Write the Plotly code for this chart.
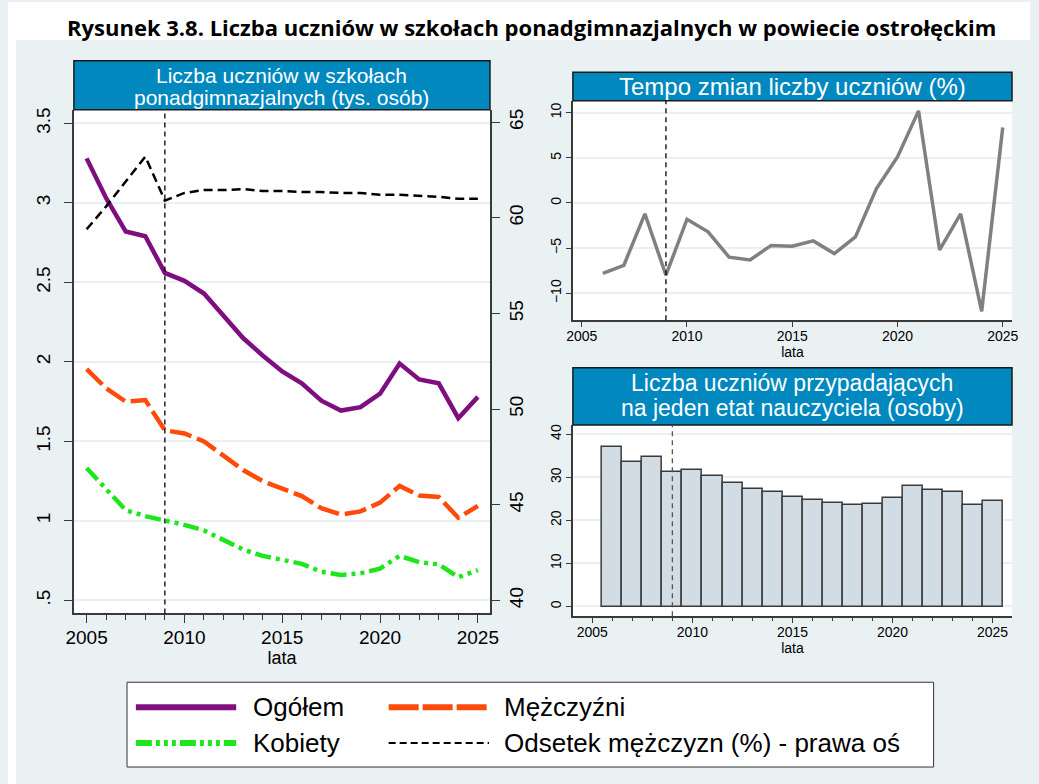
import plotly.graph_objects as go

# ---------------- data ----------------
years = list(range(2005, 2026))
ogolem = [3.28, 3.03, 2.82, 2.79, 2.56, 2.51, 2.43, 2.29, 2.15, 2.04, 1.94, 1.865,
          1.756, 1.694, 1.715, 1.80, 1.99, 1.89, 1.865, 1.646, 1.78]
mezczyzni = [1.955, 1.834, 1.75, 1.76, 1.57, 1.55, 1.50, 1.41, 1.32, 1.25, 1.20, 1.156,
             1.08, 1.04, 1.06, 1.115, 1.22, 1.16, 1.15, 1.02, 1.094]
kobiety = [1.333, 1.20, 1.067, 1.03, 1.004, 0.975, 0.94, 0.88, 0.82, 0.78, 0.754, 0.73,
           0.68, 0.66, 0.67, 0.70, 0.78, 0.74, 0.727, 0.646, 0.69]
odsetek = [59.4, 60.6, 61.9, 63.2, 60.9, 61.3, 61.45, 61.45, 61.5, 61.4, 61.4, 61.35,
           61.35, 61.3, 61.3, 61.2, 61.2, 61.15, 61.1, 61.0, 61.0]

years2 = list(range(2006, 2026))
tempo = [-7.8, -6.9, -1.2, -8.0, -1.8, -3.2, -6.0, -6.3, -4.7, -4.8, -4.2, -5.6,
         -3.75, 1.6, 5.1, 10.2, -5.2, -1.2, -12.0, 8.35]
na_etat = [37.1, 33.6, 34.7, 31.25, 31.7, 30.4, 28.6, 27.4, 26.5, 25.5, 24.8, 24.15,
           23.5, 23.8, 25.3, 27.9, 27.0, 26.7, 23.5, 24.6]

ref_year = 2009

title_text = "Rysunek 3.8. Liczba uczniów w szkołach ponadgimnazjalnych w powiecie ostrołęckim"
head_left = ["Liczba uczniów w szkołach", "ponadgimnazjalnych (tys. osób)"]
head_tr = "Tempo zmian liczby uczniów (%)"
head_br = ["Liczba uczniów przypadających", "na jeden etat nauczyciela (osoby)"]
legend_names = ["Ogółem", "Mężczyźni", "Kobiety", "Odsetek mężczyzn (%) - prawa oś"]

# ---------------- styles ----------------
W, H = 1039, 784
def X(px): return px / W
def Y(py): return 1 - py / H

FONT = "Liberation Sans, Arial, sans-serif"
BG = "#EAF1F3"
HEAD = "#0088BF"
AX = "#3a3a3a"
GRID = "#E8F0F3"
PURPLE = "#7F0F80"
ORANGE = "#FF4A0A"
GREEN = "#1EE61E"
GRAY = "#808080"

fig = go.Figure()

# left panel
fig.add_trace(go.Scatter(x=years, y=ogolem, mode="lines", xaxis="x", yaxis="y",
                         line=dict(color=PURPLE, width=4.5)))
fig.add_trace(go.Scatter(x=years, y=mezczyzni, mode="lines", xaxis="x", yaxis="y",
                         line=dict(color=ORANGE, width=4.5, dash="22px,6px")))
fig.add_trace(go.Scatter(x=years, y=kobiety, mode="lines", xaxis="x", yaxis="y",
                         line=dict(color=GREEN, width=4.5, dash="16px,5px,4px,5px,4px,5px")))
fig.add_trace(go.Scatter(x=years, y=odsetek, mode="lines", xaxis="x", yaxis="y2",
                         line=dict(color="black", width=2.5, dash="9px,5px")))
# top right
fig.add_trace(go.Scatter(x=years2, y=tempo, mode="lines", xaxis="x3", yaxis="y3",
                         line=dict(color=GRAY, width=3.5)))
# bottom right
fig.add_trace(go.Bar(x=years2, y=na_etat, xaxis="x4", yaxis="y4", width=1,
                     marker=dict(color="#D2DCE5", line=dict(color="#3a3a3a", width=1.5))))

tick_font_l = dict(family=FONT, size=19, color="black")
tick_font_s = dict(family=FONT, size=14, color="black")

common_x = dict(showline=True, linecolor=AX, linewidth=2, ticks="outside", tickcolor=AX,
                showgrid=False, zeroline=False, tickmode="linear", tick0=2005, dtick=5)
common_y = dict(showline=True, linecolor=AX, linewidth=2, ticks="outside", tickcolor=AX,
                showgrid=True, gridcolor=GRID, gridwidth=1.5, zeroline=False, tickangle=-90)

layout = dict(
    width=W, height=H, margin=dict(l=0, r=0, t=0, b=0),
    paper_bgcolor=BG, plot_bgcolor="white", showlegend=False, bargap=0,
    xaxis=dict(common_x, domain=[X(67), X(490)], range=[2004.35, 2025.62], anchor="y",
               ticklen=8, tickfont=tick_font_l, ticklabelstandoff=-2,
               minor=dict(dtick=1, ticks="outside", ticklen=5, tickcolor=AX),
               title=dict(text="lata", font=dict(family=FONT, size=18, color="black"), standoff=0)),
    yaxis=dict(common_y, domain=[Y(613), Y(108)], range=[0.418, 3.586], anchor="x",
               tickvals=[0.5, 1, 1.5, 2, 2.5, 3, 3.5], ticktext=[".5", "1", "1.5", "2", "2.5", "3", "3.5"],
               ticklen=8, tickfont=tick_font_l, ticklabelstandoff=6),
    yaxis2=dict(common_y, overlaying="y", side="right", anchor="x", range=[39.32, 65.65],
                tickvals=[40, 45, 50, 55, 60, 65], showgrid=False, ticklen=8, tickfont=tick_font_l),
    xaxis3=dict(common_x, domain=[X(574.3), X(1020.7)], range=[2004.58, 2025.44], anchor="y3",
                ticklen=5, linewidth=1.5, tickfont=tick_font_s, ticklabelstandoff=-3,
                title=dict(text="lata", font=dict(family=FONT, size=14, color="black"), standoff=0)),
    yaxis3=dict(common_y, domain=[Y(319), Y(99)], range=[-12.98, 11.32], anchor="x3",
                tickvals=[-10, -5, 0, 5, 10], ticklen=5, linewidth=1.5, tickfont=tick_font_s),
    xaxis4=dict(common_x, domain=[X(574.3), X(1020.7)], range=[2004.03, 2025.97], anchor="y4",
                ticklen=5, linewidth=1.5, tickfont=tick_font_s, ticklabelstandoff=-3,
                minor=dict(dtick=1, ticks="outside", ticklen=3, tickcolor=AX),
                title=dict(text="lata", font=dict(family=FONT, size=14, color="black"), standoff=0)),
    yaxis4=dict(common_y, domain=[Y(615.7), Y(424)], range=[-2.24, 42.15], anchor="x4",
                tickvals=[0, 10, 20, 30, 40], ticklen=5, linewidth=1.5, tickfont=tick_font_s),
)
fig.update_layout(**layout)

shapes = []
# white strips outside the light panel
shapes.append(dict(type="rect", xref="paper", yref="paper", x0=0, x1=1, y0=Y(38), y1=1,
                   fillcolor="white", line=dict(width=0), layer="below"))
shapes.append(dict(type="rect", xref="paper", yref="paper", x0=0, x1=X(8), y0=0, y1=1,
                   fillcolor="white", line=dict(width=0), layer="below"))
# header boxes
for x0, x1, y0, y1 in [(67, 490, 59, 108), (574.3, 1020.7, 70.5, 99), (574.3, 1020.7, 366.7, 424)]:
    shapes.append(dict(type="rect", xref="paper", yref="paper", x0=X(x0), x1=X(x1),
                       y0=Y(y1), y1=Y(y0), fillcolor=HEAD, line=dict(color="#1a1a1a", width=1.5)))
# reference year lines
for xr, yr, col in [("x", "y", "black"), ("x3", "y3", "black"), ("x4", "y4", "#555555")]:
    shapes.append(dict(type="line", xref=xr, yref=yr + " domain", x0=ref_year, x1=ref_year,
                       y0=0, y1=1, line=dict(color=col, width=1.3, dash="5px,4px")))
# legend box
shapes.append(dict(type="rect", xref="paper", yref="paper", x0=X(121), x1=X(941), y0=Y(767), y1=Y(682),
                   fillcolor="white", line=dict(color="#333333", width=1)))
leg_styles = [
    (130, 232, 707, dict(color=PURPLE, width=6)),
    (387, 489, 707, dict(color=ORANGE, width=6, dash="30px,4px")),
    (130, 232, 743, dict(color=GREEN, width=6, dash="16px,4px,4px,4px,4px,4px,4px,4px")),
    (387, 489, 743, dict(color="black", width=2, dash="7px,4px")),
]
for x0, x1, yy, ln in leg_styles:
    shapes.append(dict(type="line", xref="paper", yref="paper", x0=X(x0), x1=X(x1),
                       y0=Y(yy), y1=Y(yy), line=ln))
fig.update_layout(shapes=shapes)

ann = []
def add_text(txt, px, py, size, color="black", bold=False, family=FONT, xanchor="center"):
    ann.append(dict(text=("<b>%s</b>" % txt) if bold else txt, x=X(px), y=Y(py),
                    xref="paper", yref="paper", showarrow=False, xanchor=xanchor, yanchor="middle",
                    font=dict(family=family, size=size, color=color), borderpad=0))

add_text(title_text, 532, 25, 22, bold=True, family="Open Sans, Lato, sans-serif")
add_text(head_left[0], 278.5, 73.5, 21, color="white")
add_text(head_left[1], 278.5, 96, 21, color="white")
add_text(head_tr, 797.5, 85, 24, color="white")
add_text(head_br[0], 797.5, 382, 23, color="white")
add_text(head_br[1], 797.5, 407.5, 23, color="white")
add_text(legend_names[0], 248, 707, 26, xanchor="left")
add_text(legend_names[1], 503, 707, 26, xanchor="left")
add_text(legend_names[2], 248, 743, 26, xanchor="left")
add_text(legend_names[3], 503, 743, 26, xanchor="left")
fig.update_layout(annotations=ann)

fig.write_html("out.html", config={"displayModeBar": False},
               post_script="document.body.style.margin='0px';document.body.style.overflow='hidden';")
